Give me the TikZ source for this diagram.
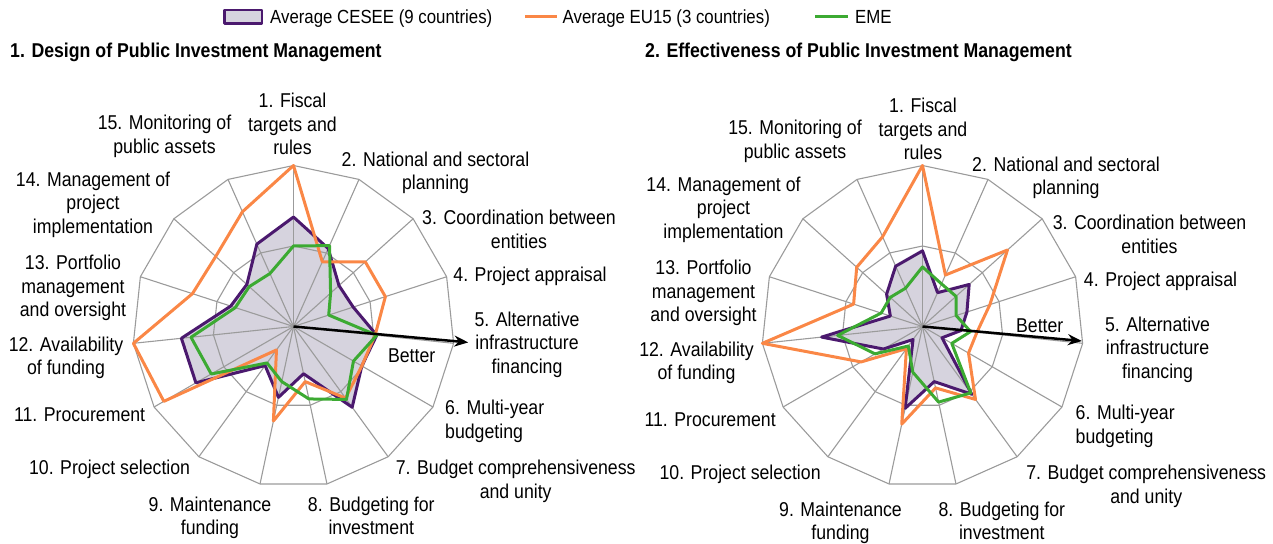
\documentclass[tikz,border=0pt]{standalone}
\usepackage{fontspec}
\setmainfont{Liberation Sans}[FakeStretch=0.885]
\usepackage{tikz}
\usetikzlibrary{arrows.meta,positioning,calc}
\definecolor{ceseeline}{RGB}{75,25,110}
\definecolor{ceseefill}{RGB}{214,211,222}
\definecolor{euorange}{RGB}{250,135,70}
\definecolor{emegreen}{RGB}{60,170,50}
\definecolor{gridgray}{RGB}{155,155,155}
\newcommand*{\chartr}{161}

\begin{document}
\begin{tikzpicture}[x=1pt, y=1pt, line join=round, >={Stealth[length=14pt,width=11pt]}]
    \tikzset{
      webline/.style={draw=gridgray, line width=1.1pt},
      cesee/.style={draw=ceseeline, line width=3pt},
      eu/.style={draw=euorange, line width=3pt},
      eme/.style={draw=emegreen, line width=3pt},
      better/.style={->, line width=2.5pt},
      lbl/.style={font=\fontsize{20}{23.5}\selectfont, align=center, anchor=north, inner sep=0pt},
      leg/.style={font=\fontsize{19}{23}\selectfont, anchor=base west, inner sep=0pt},
      ttl/.style={font=\fontsize{20}{24}\selectfont\bfseries, anchor=base west, inner sep=0pt}
    }
    \useasboundingbox (0,0) rectangle (1273,543);
    \coordinate (C1) at (293.5,216.5);
    \coordinate (C2) at (922.5,216.5);

    % legend and titles
    \node[draw=ceseeline, line width=2.5pt, fill=ceseefill, minimum width=37.5pt,
          minimum height=13.5pt, inner sep=0pt] (kce) at (243.3,526) {};
    \node[leg]  (tce)  at (270,519)   {Average CESEE (9 countries)};
    \coordinate (keu1) at (525,526);
    \coordinate (keu2) at (557,526);
    \draw[eu] (keu1) -- (keu2);
    \node[leg]  (teu)  at (562.5,519) {Average EU15 (3 countries)};
    \coordinate (keme1) at (815,526);
    \coordinate (keme2) at (848,526);
    \draw[eme] (keme1) -- (keme2);
    \node[leg]  (teme) at (855,519)   {EME};
    \node[ttl]  (T1)   at (10,485)    {1. Design of Public Investment Management};
    \node[ttl]  (T2)   at (645,485)   {2. Effectiveness of Public Investment Management};

    \foreach \ch/\cee/\euu/\eme/\arrowlen/\btx/\bty/\lx/\ly in {
      1/{0.68,0.53,0.38,0.39,0.52,0.49,0.62,0.30,0.45,0.30,0.70,0.70,0.41,0.39,0.56}/{1.00,0.44,0.60,0.60,0.51,0.49,0.55,0.35,0.60,0.18,0.93,1.00,0.66,0.65,0.78}/{0.50,0.55,0.31,0.23,0.52,0.43,0.56,0.46,0.35,0.28,0.59,0.64,0.38,0.37,0.36}/175.5/118.2/-21.8/0/0,
      2/{0.47,0.23,0.39,0.29,0.24,0.14,0.52,0.35,0.52,0.10,0.28,0.63,0.21,0.30,0.41}/{1.00,0.35,0.71,0.44,0.34,0.33,0.56,0.39,0.62,0.17,0.44,1.00,0.45,0.55,0.61}/{0.37,0.29,0.28,0.22,0.30,0.21,0.51,0.48,0.29,0.15,0.34,0.53,0.27,0.27,0.26}/160/117.2/8.2/1.5/-5}
    {
      \begin{scope}[shift={(C\ch)}]
        \coordinate (o\ch) at (0,0);
        \coordinate (tip\ch) at (-5.2:\arrowlen);
        \foreach \k in {1,...,15} {
          \coordinate (rim\ch-\k) at ({114-24*\k}:\chartr);
          \coordinate (mid\ch-\k) at ({114-24*\k}:{\chartr/2});
        }
        \foreach \v [count=\k] in \cee \coordinate (ce\ch-\k) at ({114-24*\k}:{\v*\chartr});
        \foreach \v [count=\k] in \euu \coordinate (eu\ch-\k) at ({114-24*\k}:{\v*\chartr});
        \foreach \v [count=\k] in \eme \coordinate (em\ch-\k) at ({114-24*\k}:{\v*\chartr});

        \fill[ceseefill] (ce\ch-1) \foreach \k in {2,...,15} {-- (ce\ch-\k)} -- cycle;
        \foreach \k in {1,...,15} \draw[webline] (o\ch) -- (rim\ch-\k);
        \draw[webline] (rim\ch-1) \foreach \k in {2,...,15} {-- (rim\ch-\k)} -- cycle;
        \draw[webline] (mid\ch-1) \foreach \k in {2,...,15} {-- (mid\ch-\k)} -- cycle;
        \draw[cesee] (ce\ch-1) \foreach \k in {2,...,15} {-- (ce\ch-\k)} -- cycle;
        \draw[eu]    (eu\ch-1) \foreach \k in {2,...,15} {-- (eu\ch-\k)} -- cycle;
        \draw[eme]   (em\ch-1) \foreach \k in {2,...,15} {-- (em\ch-\k)} -- cycle;
        \draw[better] (o\ch) -- (tip\ch);
        \node[lbl] (b\ch) at (\btx,\bty) {Better};

        \begin{scope}[shift={(\lx,\ly)}]
          \foreach \k/\dx/\dy/\txt in {
            1/-1/233.2/{1. Fiscal\\targets and\\rules},
            2/142/174.8/{2. National and sectoral\\planning},
            3/225.5/116.5/{3. Coordination between\\entities},
            4/236.5/59.8/{4. Project appraisal},
            5/233.5/14.8/{5. Alternative\\infrastructure\\financing},
            7/222.2/-133.5/{7. Budget comprehensiveness\\and unity},
            8/77.8/-170.2/{8. Budgeting for\\investment},
            9/-83.5/-170.2/{9. Maintenance\\funding},
            10/-183.9/-133.5/{10. Project selection},
            11/-213.9/-81.5/{11. Procurement},
            12/-227.5/-10.2/{12. Availability\\of funding},
            13/-220.5/71.5/{13. Portfolio\\management\\and oversight},
            14/-200.5/154.8/{14. Management of\\project\\implementation},
            15/-129/211.5/{15. Monitoring of\\public assets}}
            \node[lbl] (l\ch-\k) at (\dx,\dy) {\txt};
          \node[lbl, anchor=north west, align=left] (l\ch-6) at (151.5,-73.5) {6. Multi-year\\budgeting};
        \end{scope}
      \end{scope}
    }
\end{tikzpicture}
\end{document}
